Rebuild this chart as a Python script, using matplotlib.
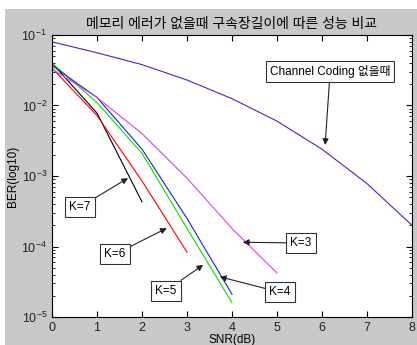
import matplotlib
matplotlib.use('Agg')
import matplotlib.pyplot as plt
from matplotlib.patches import Rectangle

plt.rcParams['font.family'] = ['Liberation Sans', 'Noto Sans CJK KR']

# SNR axis values (dB)
snr_uncoded = [0, 1, 2, 3, 4, 5, 6, 7, 8]
ber_uncoded = [0.08, 0.056, 0.038, 0.023, 0.0125, 0.006, 0.0024, 0.00078, 0.0002]

snr_k7 = [0, 1, 2]
ber_k7 = [0.040, 0.0078, 0.00043]

snr_k6 = [0, 1, 2, 3]
ber_k6 = [0.034, 0.0072, 0.00085, 0.000083]

snr_k5 = [0, 1, 2, 3, 4]
ber_k5 = [0.040, 0.011, 0.0021, 0.00018, 0.000016]

snr_k4 = [0, 1, 2, 3, 4]
ber_k4 = [0.037, 0.013, 0.0024, 0.00025, 0.000021]

snr_k3 = [0, 1, 2, 3, 4, 5]
ber_k3 = [0.033, 0.013, 0.0040, 0.00093, 0.00018, 0.000042]

# annotations: label, arrow tip (snr, ber), text centre (snr, ber)
notes = [
    ('Channel Coding 없을때', (6.07, 10**-2.56), (6.18, 10**-1.52)),
    ('K=7', (1.69, 10**-3.03), (0.62, 10**-3.44)),
    ('K=6', (2.55, 10**-3.74), (1.40, 10**-4.11)),
    ('K=5', (3.36, 10**-4.26), (2.53, 10**-4.63)),
    ('K=4', (3.73, 10**-4.43), (5.07, 10**-4.65)),
    ('K=3', (4.24, 10**-3.94), (5.53, 10**-3.95)),
]

fig = plt.figure(figsize=(4.17, 3.45), dpi=100, facecolor='white')
# gray MATLAB style figure background
fig.patches.append(Rectangle((5 / 417, 0), 1, 1 - 9 / 345, transform=fig.transFigure,
                             facecolor='#c8c8c8', edgecolor='none', zorder=-1))

ax = fig.add_axes([52 / 417, 1 - 317 / 345, 360 / 417, 282 / 345])
ax.set_yscale('log')

ax.plot(snr_uncoded, ber_uncoded, color='#3030c8', lw=0.8)
ax.plot(snr_k7, ber_k7, color='black', lw=0.8)
ax.plot(snr_k6, ber_k6, color='red', lw=0.8)
ax.plot(snr_k5, ber_k5, color='#00e000', lw=0.8)
ax.plot(snr_k4, ber_k4, color='#2020d0', lw=0.8)
ax.plot(snr_k3, ber_k3, color='#e040e0', lw=0.8)

for label, tip, txt in notes:
    ax.annotate(label, xy=tip, xytext=txt, ha='center', va='center', fontsize=8.5,
                bbox=dict(boxstyle='square,pad=0.35', fc='white', ec='#333333', lw=0.8),
                arrowprops=dict(arrowstyle='-|>', color='#222222', lw=0.8,
                                mutation_scale=9, shrinkA=0, shrinkB=0))

ax.set_xlim(0, 8)
ax.set_ylim(1e-5, 1e-1)
ax.set_xticks(range(0, 9))
ax.tick_params(which='both', direction='in', top=True, right=True, labelsize=9,
               labelcolor='#222222')
ax.tick_params(which='major', length=4)
ax.tick_params(which='minor', length=2)

ax.set_title('메모리 에러가 없을때 구속장길이에 따른 성능 비교', fontsize=10, pad=5)
ax.set_xlabel('SNR(dB)', fontsize=8.5, labelpad=0)
ax.set_ylabel('BER(log10)', fontsize=8.5, labelpad=2)

plt.savefig('out.png', dpi=100)
